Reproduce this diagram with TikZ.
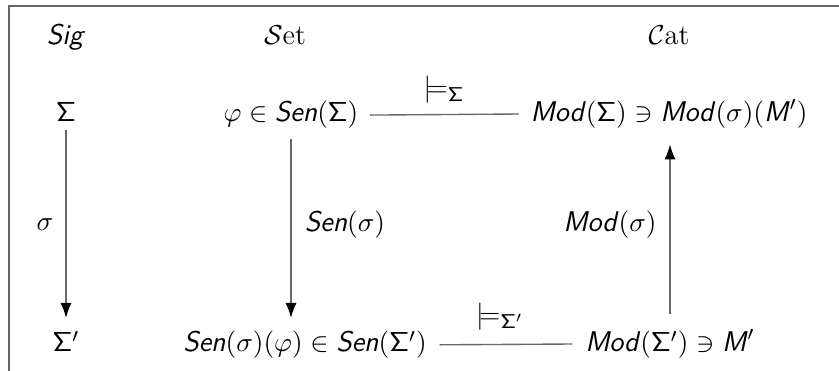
\documentclass[tikz,border=0pt]{standalone}
\usetikzlibrary{arrows.meta}
\newcommand{\sfi}[1]{\textsf{\textit{#1}}}
\begin{document}
\fontsize{11.4}{13.7}\selectfont
\begin{tikzpicture}[x=0.4pt,y=-0.4pt,
  lbl/.style={inner sep=0pt, anchor=base},
  clbl/.style={inner sep=0pt, anchor=center},
  conn/.style={draw={rgb,255:red,105;green,105;blue,105}, line width=0.55pt},
  arr/.style={conn, -{Latex[black,length=6pt,width=4.4pt]}},
  border/.style={draw={rgb,255:red,100;green,100;blue,100}, line width=0.7pt}]
\useasboundingbox (0,0) rectangle (839,371);
\coordinate (ftop) at (839,6);
\coordinate (fcorner) at (9,6);
\coordinate (fbot) at (9,371);
\draw[border] (ftop) -- (fcorner) -- (fbot);
% headers
\node[lbl] (hsig) at (66,45) {\sfi{Sig}};
\node[lbl] (hset) at (285,45) {$\mathcal{S}$et};
\node[lbl] (hcat) at (669,45) {$\mathcal{C}$at};
% row 1
\node[lbl] (S) at (66,122) {$\mathsf{\Sigma}$};
\node[lbl] (phi) at (291,122) {$\varphi\in\sfi{Sen}(\mathsf{\Sigma})$};
\node[lbl] (mod) at (669,122) {$\sfi{Mod}(\mathsf{\Sigma})\ni\sfi{Mod}(\sigma)(\sfi{M}')$};
% row 2
\node[lbl] (Sp) at (66,352) {$\mathsf{\Sigma}'$};
\node[lbl] (senphi) at (305,352) {$\sfi{Sen}(\sigma)(\varphi)\in\sfi{Sen}(\mathsf{\Sigma}')$};
\node[lbl] (modp) at (670,352) {$\sfi{Mod}(\mathsf{\Sigma}')\ni\sfi{M}'$};
% arrows
\draw[arr, shorten <=3.2pt, shorten >=5pt] (S.south) -- (Sp.north);
\draw[arr, shorten <=4pt, shorten >=5pt] (phi.south) -- (phi.south |- senphi.north);
\draw[arr, shorten <=6pt, shorten >=6pt] (modp.north) -- (modp.north |- mod.south);
\draw[conn, shorten <=4.5pt, shorten >=4.5pt] (phi.east) -- (mod.west);
\draw[conn, shorten <=5pt, shorten >=5pt] (senphi.east) -- (modp.west);
% labels
\node[lbl] (m1) at (444,97) {$\models_{\mathsf{\Sigma}}$};
\node[lbl] (m2) at (500,324) {$\models_{\mathsf{\Sigma}'}$};
\node[clbl] (ls) at (45,225) {$\sigma$};
\node[clbl] (lsen) at (345,225) {$\sfi{Sen}(\sigma)$};
\node[clbl] (lmod) at (610,225) {$\sfi{Mod}(\sigma)$};
\end{tikzpicture}
\end{document}
